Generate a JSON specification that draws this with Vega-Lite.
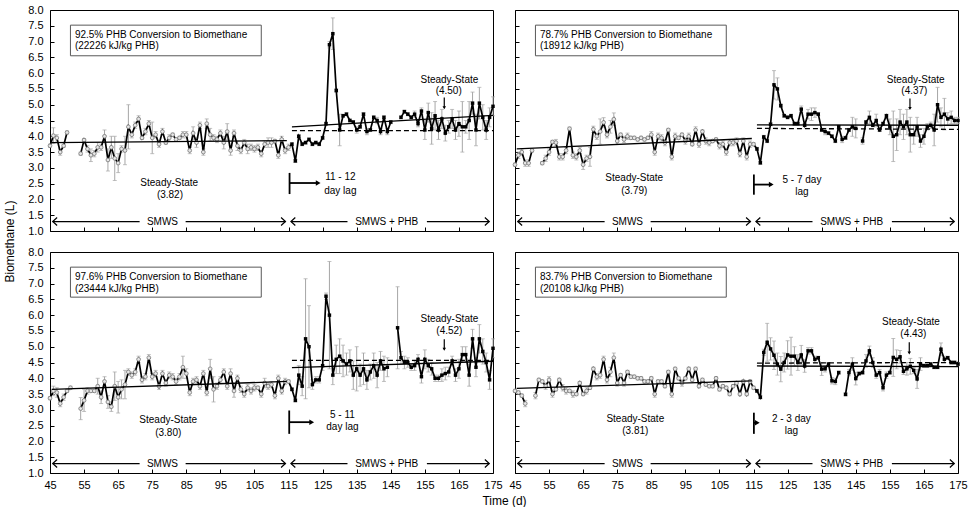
{
  "$schema": "https://vega.github.io/schema/vega-lite/v6.json",
  "autosize": {"type": "pad"},
  "padding": {"left": 2, "top": 3, "right": 4, "bottom": 1},
  "background": "white",
  "datasets": {
    "A": [
      {"d":45,"v":3.7,"e":0.05},{"d":46,"v":4.02,"e":0.25},{"d":47,"v":3.95,"e":0.1},{"d":48,"v":3.5,"e":0.1},{"d":49,"v":3.7,"e":0.05},{"d":50,"v":4.12,"e":0.05},
      {"d":51,"v":null,"e":null},{"d":52,"v":null,"e":null},{"d":53,"v":null,"e":null},
      {"d":54,"v":3.45,"e":0.05},{"d":55,"v":3.88,"e":0.05},{"d":56,"v":3.6,"e":0.1},{"d":57,"v":3.4,"e":0.2},{"d":58,"v":3.45,"e":0.1},{"d":59,"v":3.65,"e":0.15},{"d":60,"v":3.65,"e":0.1},
      {"d":61,"v":4.0,"e":0.2},{"d":62,"v":3.25,"e":0.35},{"d":63,"v":3.65,"e":0.35},{"d":64,"v":3.3,"e":0.7},{"d":65,"v":3.15,"e":0.3},{"d":66,"v":3.6,"e":0.1},{"d":67,"v":3.55,"e":0.45},{"d":68,"v":4.3,"e":0.7},{"d":69,"v":4.05,"e":0.1},{"d":70,"v":4.35,"e":0.1},
      {"d":71,"v":4.55,"e":0.1},{"d":72,"v":3.95,"e":0.05},{"d":73,"v":4.15,"e":0.1},{"d":74,"v":4.4,"e":0.1},{"d":75,"v":3.95,"e":0.5},{"d":76,"v":4.05,"e":0.1},{"d":77,"v":3.75,"e":0.1},{"d":78,"v":4.15,"e":0.1},{"d":79,"v":3.8,"e":0.05},{"d":80,"v":3.95,"e":0.1},
      {"d":81,"v":4.05,"e":0.05},{"d":82,"v":3.9,"e":0.05},{"d":83,"v":3.95,"e":0.05},{"d":84,"v":4.05,"e":0.1},{"d":85,"v":4.05,"e":0.1},{"d":86,"v":3.55,"e":0.1},{"d":87,"v":4.1,"e":0.2},{"d":88,"v":3.8,"e":0.15},{"d":89,"v":4.35,"e":0.1},{"d":90,"v":3.5,"e":0.1},
      {"d":91,"v":4.4,"e":0.15},{"d":92,"v":4.05,"e":0.2},{"d":93,"v":3.95,"e":0.1},{"d":94,"v":3.9,"e":0.1},{"d":95,"v":4.1,"e":0.1},{"d":96,"v":3.8,"e":0.2},{"d":97,"v":4.15,"e":0.25},{"d":98,"v":3.55,"e":0.15},{"d":99,"v":4.1,"e":0.1},{"d":100,"v":3.7,"e":0.15},
      {"d":101,"v":3.55,"e":0.1},{"d":102,"v":3.8,"e":0.1},{"d":103,"v":3.6,"e":0.15},{"d":104,"v":3.65,"e":0.1},{"d":105,"v":3.6,"e":0.1},{"d":106,"v":3.65,"e":0.1},{"d":107,"v":3.45,"e":0.1},{"d":108,"v":3.75,"e":0.1},{"d":109,"v":3.8,"e":0.15},{"d":110,"v":3.8,"e":0.15},
      {"d":111,"v":3.85,"e":0.05},{"d":112,"v":3.4,"e":0.1},{"d":113,"v":3.9,"e":0.1},{"d":114,"v":3.55,"e":0.1},{"d":115,"v":3.65,"e":0.1},
      {"d":116,"v":3.75,"e":0.05},{"d":117,"v":3.22,"e":0.05},{"d":118,"v":4.0,"e":0.05},{"d":119,"v":3.75,"e":0.05},{"d":120,"v":3.8,"e":0.05},
      {"d":121,"v":3.9,"e":0.05},{"d":122,"v":3.75,"e":0.05},{"d":123,"v":3.8,"e":0.05},{"d":124,"v":3.75,"e":0.05},{"d":125,"v":3.95,"e":0.05},{"d":126,"v":4.4,"e":0.05},{"d":127,"v":6.9,"e":0.1},{"d":128,"v":7.25,"e":0.5},{"d":129,"v":5.45,"e":0.05},{"d":130,"v":4.2,"e":0.5},
      {"d":131,"v":4.65,"e":0.05},{"d":132,"v":4.7,"e":0.05},{"d":133,"v":4.5,"e":0.05},{"d":134,"v":4.45,"e":0.05},{"d":135,"v":4.2,"e":0.1},{"d":136,"v":4.3,"e":0.05},{"d":137,"v":4.7,"e":0.05},{"d":138,"v":4.15,"e":0.1},{"d":139,"v":4.2,"e":0.05},{"d":140,"v":4.6,"e":0.05},
      {"d":141,"v":4.5,"e":0.1},{"d":142,"v":4.15,"e":0.1},{"d":143,"v":4.6,"e":0.05},{"d":144,"v":4.15,"e":0.1},{"d":145,"v":4.45,"e":0.05},{"d":146,"v":null,"e":null},{"d":147,"v":null,"e":null},
      {"d":148,"v":4.6,"e":0.05},{"d":149,"v":4.78,"e":0.05},{"d":150,"v":4.7,"e":0.05},
      {"d":151,"v":4.6,"e":0.05},{"d":152,"v":4.7,"e":0.1},{"d":153,"v":4.4,"e":0.1},{"d":154,"v":4.8,"e":0.1},{"d":155,"v":4.2,"e":0.3},{"d":156,"v":4.75,"e":0.3},{"d":157,"v":4.25,"e":0.5},{"d":158,"v":4.65,"e":0.45},{"d":159,"v":4.2,"e":0.3},{"d":160,"v":4.55,"e":0.3},
      {"d":161,"v":4.1,"e":0.25},{"d":162,"v":4.3,"e":0.2},{"d":163,"v":4.55,"e":0.3},{"d":164,"v":4.2,"e":0.3},{"d":165,"v":4.4,"e":0.4},{"d":166,"v":4.3,"e":0.8},{"d":167,"v":4.3,"e":0.2},{"d":168,"v":4.5,"e":0.6},{"d":169,"v":5.05,"e":0.35},{"d":170,"v":4.2,"e":0.5},
      {"d":171,"v":5.05,"e":0.5},{"d":172,"v":4.6,"e":0.4},{"d":173,"v":4.2,"e":0.3},{"d":174,"v":4.6,"e":0.3},{"d":175,"v":4.95,"e":0.3}
    ],
    "B": [
      {"d":45,"v":3.1,"e":0.05},{"d":46,"v":3.4,"e":0.1},{"d":47,"v":3.5,"e":0.1},{"d":48,"v":3.15,"e":0.1},{"d":49,"v":3.15,"e":0.1},{"d":50,"v":3.55,"e":0.05},
      {"d":51,"v":null,"e":null},{"d":52,"v":null,"e":null},
      {"d":53,"v":3.15,"e":0.05},{"d":54,"v":3.3,"e":0.1},{"d":55,"v":3.5,"e":0.1},{"d":56,"v":3.82,"e":0.05},{"d":57,"v":3.8,"e":0.1},{"d":58,"v":3.35,"e":0.1},{"d":59,"v":3.35,"e":0.1},{"d":60,"v":3.55,"e":0.1},
      {"d":61,"v":4.24,"e":0.05},{"d":62,"v":3.4,"e":0.1},{"d":63,"v":3.35,"e":0.1},{"d":64,"v":3.55,"e":0.1},{"d":65,"v":3.1,"e":0.15},{"d":66,"v":3.3,"e":0.1},{"d":67,"v":3.35,"e":0.3},{"d":68,"v":4.22,"e":0.1},{"d":69,"v":4.0,"e":0.1},{"d":70,"v":4.15,"e":0.4},
      {"d":71,"v":4.44,"e":0.15},{"d":72,"v":4.05,"e":0.1},{"d":73,"v":4.3,"e":0.2},{"d":74,"v":4.54,"e":0.2},{"d":75,"v":3.85,"e":0.1},{"d":76,"v":4.05,"e":0.05},{"d":77,"v":3.9,"e":0.1},{"d":78,"v":4.0,"e":0.1},{"d":79,"v":3.95,"e":0.05},{"d":80,"v":3.95,"e":0.05},
      {"d":81,"v":3.9,"e":0.05},{"d":82,"v":3.95,"e":0.05},{"d":83,"v":3.9,"e":0.05},{"d":84,"v":3.95,"e":0.05},{"d":85,"v":4.05,"e":0.1},{"d":86,"v":3.5,"e":0.1},{"d":87,"v":4.0,"e":0.1},{"d":88,"v":3.95,"e":0.1},{"d":89,"v":3.8,"e":0.1},{"d":90,"v":4.2,"e":0.05},
      {"d":91,"v":3.35,"e":0.1},{"d":92,"v":4.0,"e":0.1},{"d":93,"v":3.95,"e":0.05},{"d":94,"v":4.05,"e":0.05},{"d":95,"v":3.85,"e":0.1},{"d":96,"v":4.0,"e":0.1},{"d":97,"v":3.75,"e":0.05},{"d":98,"v":4.2,"e":0.1},{"d":99,"v":3.75,"e":0.1},{"d":100,"v":4.15,"e":0.05},
      {"d":101,"v":3.85,"e":0.1},{"d":102,"v":3.8,"e":0.1},{"d":103,"v":3.85,"e":0.05},{"d":104,"v":3.9,"e":0.05},{"d":105,"v":3.7,"e":0.1},{"d":106,"v":3.75,"e":0.1},{"d":107,"v":3.5,"e":0.1},{"d":108,"v":3.8,"e":0.1},{"d":109,"v":3.8,"e":0.1},{"d":110,"v":3.85,"e":0.1},
      {"d":111,"v":3.45,"e":0.1},{"d":112,"v":3.85,"e":0.1},{"d":113,"v":3.35,"e":0.1},{"d":114,"v":3.75,"e":0.1},{"d":115,"v":3.75,"e":0.05},
      {"d":116,"v":3.6,"e":0.05},{"d":117,"v":3.16,"e":0.05},{"d":118,"v":3.98,"e":0.05},{"d":119,"v":3.85,"e":0.05},{"d":120,"v":4.38,"e":0.05},
      {"d":121,"v":5.63,"e":0.45},{"d":122,"v":5.5,"e":0.35},{"d":123,"v":4.97,"e":0.05},{"d":124,"v":4.65,"e":0.05},{"d":125,"v":4.6,"e":0.05},{"d":126,"v":4.65,"e":0.05},{"d":127,"v":4.4,"e":0.05},{"d":128,"v":4.4,"e":0.05},{"d":129,"v":4.86,"e":0.1},{"d":130,"v":4.35,"e":0.05},
      {"d":131,"v":4.7,"e":0.15},{"d":132,"v":4.7,"e":0.2},{"d":133,"v":4.75,"e":0.15},{"d":134,"v":4.7,"e":0.05},{"d":135,"v":4.2,"e":0.05},{"d":136,"v":4.15,"e":0.1},{"d":137,"v":4.1,"e":0.05},{"d":138,"v":4.0,"e":0.05},{"d":139,"v":3.85,"e":0.05},{"d":140,"v":4.3,"e":0.05},
      {"d":141,"v":3.9,"e":0.1},{"d":142,"v":3.95,"e":0.05},{"d":143,"v":4.2,"e":0.05},{"d":144,"v":4.3,"e":0.3},{"d":145,"v":4.25,"e":0.3},{"d":146,"v":null,"e":null},{"d":147,"v":3.85,"e":0.1},{"d":148,"v":4.45,"e":0.05},{"d":149,"v":4.6,"e":0.2},{"d":150,"v":4.35,"e":0.05},
      {"d":151,"v":4.5,"e":0.2},{"d":152,"v":4.2,"e":0.05},{"d":153,"v":4.4,"e":0.05},{"d":154,"v":4.65,"e":0.05},{"d":155,"v":4.3,"e":0.25},{"d":156,"v":4.0,"e":0.8},{"d":157,"v":4.05,"e":0.5},{"d":158,"v":4.45,"e":0.4},{"d":159,"v":4.3,"e":0.4},{"d":160,"v":4.45,"e":0.4},
      {"d":161,"v":4.05,"e":0.55},{"d":162,"v":4.05,"e":0.3},{"d":163,"v":4.3,"e":0.3},{"d":164,"v":3.85,"e":0.2},{"d":165,"v":4.0,"e":0.25},{"d":166,"v":4.3,"e":0.1},{"d":167,"v":4.35,"e":0.1},{"d":168,"v":4.2,"e":0.5},{"d":169,"v":5.0,"e":0.55},{"d":170,"v":4.6,"e":0.3},
      {"d":171,"v":4.7,"e":0.5},{"d":172,"v":4.55,"e":0.2},{"d":173,"v":4.6,"e":0.2},{"d":174,"v":4.5,"e":0.1},{"d":175,"v":4.5,"e":0.1}
    ],
    "C": [
      {"d":45,"v":3.37,"e":0.05},{"d":46,"v":3.6,"e":0.15},{"d":47,"v":3.55,"e":0.15},{"d":48,"v":3.2,"e":0.1},{"d":49,"v":3.4,"e":0.1},{"d":50,"v":3.6,"e":0.05},
      {"d":51,"v":3.7,"e":0.05},{"d":52,"v":null,"e":null},{"d":53,"v":null,"e":null},
      {"d":54,"v":3.04,"e":0.35},{"d":55,"v":3.3,"e":0.35},{"d":56,"v":3.6,"e":0.1},{"d":57,"v":3.6,"e":0.05},{"d":58,"v":3.6,"e":0.05},{"d":59,"v":3.75,"e":0.25},{"d":60,"v":3.4,"e":0.2},
      {"d":61,"v":3.9,"e":0.15},{"d":62,"v":3.25,"e":0.2},{"d":63,"v":3.1,"e":0.15},{"d":64,"v":3.75,"e":0.45},{"d":65,"v":3.4,"e":0.5},{"d":66,"v":3.65,"e":0.3},{"d":67,"v":3.8,"e":0.45},{"d":68,"v":4.2,"e":0.1},{"d":69,"v":4.1,"e":0.1},{"d":70,"v":4.2,"e":0.1},
      {"d":71,"v":4.6,"e":0.1},{"d":72,"v":3.95,"e":0.1},{"d":73,"v":4.05,"e":0.1},{"d":74,"v":4.65,"e":0.1},{"d":75,"v":4.05,"e":0.1},{"d":76,"v":4.15,"e":0.1},{"d":77,"v":3.75,"e":0.1},{"d":78,"v":4.15,"e":0.1},{"d":79,"v":3.85,"e":0.1},{"d":80,"v":4.1,"e":0.1},
      {"d":81,"v":4.05,"e":0.1},{"d":82,"v":3.9,"e":0.1},{"d":83,"v":4.05,"e":0.1},{"d":84,"v":4.35,"e":0.35},{"d":85,"v":4.15,"e":0.15},{"d":86,"v":3.55,"e":0.1},{"d":87,"v":3.9,"e":0.1},{"d":88,"v":3.95,"e":0.1},{"d":89,"v":3.75,"e":0.1},{"d":90,"v":4.15,"e":0.1},
      {"d":91,"v":3.55,"e":0.1},{"d":92,"v":4.3,"e":0.3},{"d":93,"v":3.65,"e":0.4},{"d":94,"v":3.75,"e":0.1},{"d":95,"v":3.95,"e":0.1},{"d":96,"v":4.2,"e":0.1},{"d":97,"v":3.75,"e":0.1},{"d":98,"v":4.15,"e":0.15},{"d":99,"v":3.6,"e":0.2},{"d":100,"v":4.0,"e":0.1},
      {"d":101,"v":3.65,"e":0.1},{"d":102,"v":3.5,"e":0.1},{"d":103,"v":3.7,"e":0.1},{"d":104,"v":3.6,"e":0.1},{"d":105,"v":3.7,"e":0.1},{"d":106,"v":3.7,"e":0.05},{"d":107,"v":3.5,"e":0.1},{"d":108,"v":3.85,"e":0.15},{"d":109,"v":3.75,"e":0.1},{"d":110,"v":3.8,"e":0.1},
      {"d":111,"v":3.45,"e":0.1},{"d":112,"v":4.0,"e":0.1},{"d":113,"v":3.6,"e":0.1},{"d":114,"v":3.9,"e":0.1},{"d":115,"v":3.9,"e":0.05},
      {"d":116,"v":3.65,"e":0.05},{"d":117,"v":3.3,"e":0.05},{"d":118,"v":4.1,"e":0.3},{"d":119,"v":3.75,"e":0.3},{"d":120,"v":5.25,"e":1.9},
      {"d":121,"v":5.0,"e":1.3},{"d":122,"v":3.8,"e":0.15},{"d":123,"v":3.95,"e":0.1},{"d":124,"v":3.95,"e":0.1},{"d":125,"v":4.4,"e":0.15},{"d":126,"v":6.6,"e":0.1},{"d":127,"v":6.0,"e":1.7},{"d":128,"v":4.1,"e":0.3},{"d":129,"v":4.6,"e":0.45},{"d":130,"v":4.7,"e":0.55},
      {"d":131,"v":4.55,"e":0.5},{"d":132,"v":4.45,"e":0.35},{"d":133,"v":4.55,"e":0.35},{"d":134,"v":4.1,"e":0.45},{"d":135,"v":4.3,"e":0.7},{"d":136,"v":4.1,"e":0.35},{"d":137,"v":4.3,"e":0.5},{"d":138,"v":3.95,"e":0.3},{"d":139,"v":4.2,"e":0.25},{"d":140,"v":4.4,"e":0.4},
      {"d":141,"v":4.1,"e":0.4},{"d":142,"v":4.55,"e":0.3},{"d":143,"v":4.3,"e":0.4},{"d":144,"v":4.35,"e":0.3},{"d":145,"v":null,"e":null},{"d":146,"v":null,"e":null},{"d":147,"v":5.6,"e":1.3},{"d":148,"v":4.65,"e":0.2},{"d":149,"v":4.5,"e":0.2},{"d":150,"v":4.5,"e":0.15},
      {"d":151,"v":4.35,"e":0.1},{"d":152,"v":4.4,"e":0.15},{"d":153,"v":4.6,"e":0.15},{"d":154,"v":4.05,"e":0.2},{"d":155,"v":4.6,"e":0.3},{"d":156,"v":4.4,"e":0.2},{"d":157,"v":4.3,"e":0.2},{"d":158,"v":4.0,"e":0.1},{"d":159,"v":4.0,"e":0.1},{"d":160,"v":4.1,"e":0.2},
      {"d":161,"v":4.15,"e":0.2},{"d":162,"v":4.2,"e":0.15},{"d":163,"v":4.55,"e":0.15},{"d":164,"v":4.1,"e":0.2},{"d":165,"v":4.3,"e":0.3},{"d":166,"v":4.75,"e":0.25},{"d":167,"v":4.75,"e":0.25},{"d":168,"v":4.1,"e":0.35},{"d":169,"v":5.25,"e":0.3},{"d":170,"v":4.35,"e":0.3},
      {"d":171,"v":5.25,"e":0.45},{"d":172,"v":4.85,"e":0.4},{"d":173,"v":4.5,"e":0.3},{"d":174,"v":3.95,"e":0.3},{"d":175,"v":4.95,"e":0.3}
    ],
    "D": [
      {"d":45,"v":3.6,"e":0.05},{"d":46,"v":3.55,"e":0.05},{"d":47,"v":3.45,"e":0.05},{"d":48,"v":3.2,"e":0.1},{"d":49,"v":null,"e":null},{"d":50,"v":null,"e":null},
      {"d":51,"v":3.45,"e":0.1},{"d":52,"v":3.95,"e":0.05},{"d":53,"v":3.9,"e":0.05},{"d":54,"v":3.75,"e":0.1},{"d":55,"v":3.95,"e":0.1},{"d":56,"v":3.5,"e":0.1},{"d":57,"v":3.65,"e":0.05},{"d":58,"v":3.95,"e":0.05},{"d":59,"v":3.7,"e":0.1},{"d":60,"v":3.6,"e":0.1},
      {"d":61,"v":3.6,"e":0.05},{"d":62,"v":3.5,"e":0.1},{"d":63,"v":3.5,"e":0.05},{"d":64,"v":3.85,"e":0.05},{"d":65,"v":3.5,"e":0.05},{"d":66,"v":3.6,"e":0.1},{"d":67,"v":3.7,"e":0.05},{"d":68,"v":4.3,"e":0.05},{"d":69,"v":4.05,"e":0.1},{"d":70,"v":4.1,"e":0.1},
      {"d":71,"v":4.6,"e":0.1},{"d":72,"v":3.95,"e":0.1},{"d":73,"v":4.2,"e":0.15},{"d":74,"v":4.65,"e":0.15},{"d":75,"v":3.85,"e":0.1},{"d":76,"v":4.1,"e":0.05},{"d":77,"v":3.85,"e":0.1},{"d":78,"v":4.2,"e":0.05},{"d":79,"v":4.05,"e":0.05},{"d":80,"v":4.05,"e":0.05},
      {"d":81,"v":4.0,"e":0.05},{"d":82,"v":4.0,"e":0.05},{"d":83,"v":3.9,"e":0.05},{"d":84,"v":3.9,"e":0.05},{"d":85,"v":4.0,"e":0.05},{"d":86,"v":3.5,"e":0.1},{"d":87,"v":3.9,"e":0.05},{"d":88,"v":3.9,"e":0.05},{"d":89,"v":3.75,"e":0.05},{"d":90,"v":4.2,"e":0.05},
      {"d":91,"v":3.5,"e":0.1},{"d":92,"v":4.3,"e":0.05},{"d":93,"v":4.0,"e":0.05},{"d":94,"v":3.85,"e":0.1},{"d":95,"v":4.0,"e":0.05},{"d":96,"v":4.3,"e":0.05},{"d":97,"v":3.95,"e":0.05},{"d":98,"v":4.3,"e":0.05},{"d":99,"v":3.75,"e":0.05},{"d":100,"v":3.95,"e":0.05},
      {"d":101,"v":3.8,"e":0.05},{"d":102,"v":3.75,"e":0.05},{"d":103,"v":3.75,"e":0.05},{"d":104,"v":4.0,"e":0.05},{"d":105,"v":3.65,"e":0.05},{"d":106,"v":3.75,"e":0.05},{"d":107,"v":3.7,"e":0.05},{"d":108,"v":3.5,"e":0.05},{"d":109,"v":3.75,"e":0.05},{"d":110,"v":3.85,"e":0.05},
      {"d":111,"v":3.5,"e":0.05},{"d":112,"v":3.9,"e":0.05},{"d":113,"v":3.5,"e":0.05},{"d":114,"v":3.9,"e":0.05},{"d":115,"v":3.7,"e":0.05},
      {"d":116,"v":3.6,"e":0.05},{"d":117,"v":3.4,"e":0.05},{"d":118,"v":4.82,"e":0.1},{"d":119,"v":5.14,"e":0.6},{"d":120,"v":4.93,"e":0.35},
      {"d":121,"v":4.73,"e":0.45},{"d":122,"v":4.45,"e":0.35},{"d":123,"v":4.29,"e":0.4},{"d":124,"v":4.5,"e":0.3},{"d":125,"v":4.74,"e":0.45},{"d":126,"v":4.7,"e":0.6},{"d":127,"v":4.7,"e":0.3},{"d":128,"v":4.5,"e":0.25},{"d":129,"v":4.74,"e":0.3},{"d":130,"v":4.39,"e":0.2},
      {"d":131,"v":4.87,"e":0.1},{"d":132,"v":4.87,"e":0.1},{"d":133,"v":4.6,"e":0.1},{"d":134,"v":4.65,"e":0.05},{"d":135,"v":4.29,"e":0.2},{"d":136,"v":4.3,"e":0.1},{"d":137,"v":4.45,"e":0.05},{"d":138,"v":3.92,"e":0.1},{"d":139,"v":3.9,"e":0.1},{"d":140,"v":4.18,"e":0.05},
      {"d":141,"v":null,"e":null},{"d":142,"v":3.49,"e":0.05},{"d":143,"v":4.18,"e":0.1},{"d":144,"v":4.45,"e":0.2},{"d":145,"v":3.99,"e":0.2},{"d":146,"v":4.15,"e":0.05},{"d":147,"v":4.18,"e":0.05},{"d":148,"v":4.55,"e":0.2},{"d":149,"v":4.87,"e":0.15},{"d":150,"v":4.5,"e":0.15},
      {"d":151,"v":4.1,"e":0.1},{"d":152,"v":4.18,"e":0.1},{"d":153,"v":3.7,"e":0.1},{"d":154,"v":4.1,"e":0.1},{"d":155,"v":4.18,"e":0.05},{"d":156,"v":4.66,"e":0.6},{"d":157,"v":4.6,"e":0.3},{"d":158,"v":4.68,"e":0.2},{"d":159,"v":4.22,"e":0.1},{"d":160,"v":4.3,"e":0.2},
      {"d":161,"v":4.38,"e":0.25},{"d":162,"v":4.25,"e":0.1},{"d":163,"v":3.98,"e":0.3},{"d":164,"v":4.45,"e":0.2},{"d":165,"v":4.4,"e":0.05},{"d":166,"v":4.4,"e":0.05},{"d":167,"v":4.45,"e":0.05},{"d":168,"v":4.35,"e":0.05},{"d":169,"v":4.35,"e":0.05},{"d":170,"v":4.92,"e":0.2},
      {"d":171,"v":4.6,"e":0.1},{"d":172,"v":4.65,"e":0.05},{"d":173,"v":4.5,"e":0.05},{"d":174,"v":4.5,"e":0.05},{"d":175,"v":4.45,"e":0.05}
    ],
    "notes": [
      {"p":"A","k":"fit","d":45.5,"v":3.8,"d2":114.5,"v2":3.86},
      {"p":"A","k":"fit","d":116,"v":4.3,"d2":175,"v2":4.66},
      {"p":"A","k":"fitd","d":116,"v":4.18,"d2":175,"v2":4.18},
      {"p":"A","k":"box","d":51,"v":7.52,"d2":107,"v2":6.55},
      {"p":"A","k":"btxt","d":52.3,"v":7.2,"t":"92.5% PHB Conversion to Biomethane"},
      {"p":"A","k":"btxt","d":52.3,"v":6.85,"t":"(22226 kJ/kg PHB)"},
      {"p":"A","k":"lbl","d":80,"v":2.52,"t":"Steady-State"},
      {"p":"A","k":"lbl","d":80.2,"v":2.15,"t":"(3.82)"},
      {"p":"A","k":"lbl","d":162.2,"v":5.77,"t":"Steady-State"},
      {"p":"A","k":"lbl","d":162,"v":5.43,"t":"(4.50)"},
      {"p":"A","k":"lbl","d":130.2,"v":2.7,"t":"11 - 12"},
      {"p":"A","k":"lbl","d":130.2,"v":2.28,"t":"day lag"},
      {"p":"A","k":"lbl","d":78,"v":1.3,"t":"SMWS"},
      {"p":"A","k":"lbl","d":143.8,"v":1.3,"t":"SMWS + PHB"},
      {"p":"A","k":"seg","d":45.8,"v":1.3,"d2":71.3,"v2":1.3},
      {"p":"A","k":"seg","d":84.8,"v":1.3,"d2":114.1,"v2":1.3},
      {"p":"A","k":"seg","d":115.7,"v":1.3,"d2":132.3,"v2":1.3},
      {"p":"A","k":"seg","d":155.6,"v":1.3,"d2":173.9,"v2":1.3},
      {"p":"A","k":"seg","d":160.7,"v":5.23,"d2":160.7,"v2":4.9},
      {"p":"A","k":"bar","d":115.3,"v":2.17,"d2":115.3,"v2":2.84},
      {"p":"A","k":"bar","d":115.3,"v":2.52,"d2":123.7,"v2":2.52},
      {"p":"A","k":"chl","d":45.8,"v":1.3},{"p":"A","k":"chr","d":114.1,"v":1.3},
      {"p":"A","k":"chl","d":115.7,"v":1.3},{"p":"A","k":"chr","d":173.9,"v":1.3},
      {"p":"A","k":"tri","d":123.7,"v":2.52},
      {"p":"A","k":"tdn","d":160.7,"v":4.9},

      {"p":"B","k":"fit","d":45.5,"v":3.6,"d2":114.5,"v2":3.93},
      {"p":"B","k":"fit","d":116,"v":4.36,"d2":175,"v2":4.35},
      {"p":"B","k":"fitd","d":116,"v":4.25,"d2":175,"v2":4.22},
      {"p":"B","k":"box","d":51,"v":7.52,"d2":107,"v2":6.55},
      {"p":"B","k":"btxt","d":52.3,"v":7.2,"t":"78.7% PHB Conversion to Biomethane"},
      {"p":"B","k":"btxt","d":52.3,"v":6.85,"t":"(18912 kJ/kg PHB)"},
      {"p":"B","k":"lbl","d":80,"v":2.68,"t":"Steady-State"},
      {"p":"B","k":"lbl","d":80,"v":2.26,"t":"(3.79)"},
      {"p":"B","k":"lbl","d":162.6,"v":5.79,"t":"Steady-State"},
      {"p":"B","k":"lbl","d":162.2,"v":5.43,"t":"(4.37)"},
      {"p":"B","k":"lbl","d":129.2,"v":2.63,"t":"5 - 7 day"},
      {"p":"B","k":"lbl","d":129.2,"v":2.23,"t":"lag"},
      {"p":"B","k":"lbl","d":78,"v":1.3,"t":"SMWS"},
      {"p":"B","k":"lbl","d":143.8,"v":1.3,"t":"SMWS + PHB"},
      {"p":"B","k":"seg","d":45.8,"v":1.3,"d2":71.3,"v2":1.3},
      {"p":"B","k":"seg","d":84.8,"v":1.3,"d2":114.1,"v2":1.3},
      {"p":"B","k":"seg","d":115.7,"v":1.3,"d2":132.3,"v2":1.3},
      {"p":"B","k":"seg","d":155.6,"v":1.3,"d2":173.9,"v2":1.3},
      {"p":"B","k":"seg","d":160.9,"v":5.2,"d2":160.9,"v2":4.88},
      {"p":"B","k":"bar","d":115.1,"v":2.15,"d2":115.1,"v2":2.79},
      {"p":"B","k":"bar","d":115.1,"v":2.47,"d2":120.2,"v2":2.47},
      {"p":"B","k":"chl","d":45.8,"v":1.3},{"p":"B","k":"chr","d":114.1,"v":1.3},
      {"p":"B","k":"chl","d":115.7,"v":1.3},{"p":"B","k":"chr","d":173.9,"v":1.3},
      {"p":"B","k":"tri","d":120.2,"v":2.47},
      {"p":"B","k":"tdn","d":160.9,"v":4.88},

      {"p":"C","k":"fit","d":45.5,"v":3.65,"d2":114.5,"v2":3.9},
      {"p":"C","k":"fit","d":116,"v":4.34,"d2":175,"v2":4.54},
      {"p":"C","k":"fitd","d":116,"v":4.57,"d2":175,"v2":4.57},
      {"p":"C","k":"box","d":51,"v":7.52,"d2":107,"v2":6.57},
      {"p":"C","k":"btxt","d":52.3,"v":7.2,"t":"97.6% PHB Conversion to Biomethane"},
      {"p":"C","k":"btxt","d":52.3,"v":6.83,"t":"(23444 kJ/kg PHB)"},
      {"p":"C","k":"lbl","d":79.7,"v":2.67,"t":"Steady-State"},
      {"p":"C","k":"lbl","d":79.7,"v":2.27,"t":"(3.80)"},
      {"p":"C","k":"lbl","d":162.2,"v":5.88,"t":"Steady-State"},
      {"p":"C","k":"lbl","d":162.2,"v":5.51,"t":"(4.52)"},
      {"p":"C","k":"lbl","d":130.8,"v":2.83,"t":"5 - 11"},
      {"p":"C","k":"lbl","d":130.8,"v":2.45,"t":"day lag"},
      {"p":"C","k":"lbl","d":78,"v":1.3,"t":"SMWS"},
      {"p":"C","k":"lbl","d":143.8,"v":1.3,"t":"SMWS + PHB"},
      {"p":"C","k":"seg","d":45.8,"v":1.3,"d2":71.3,"v2":1.3},
      {"p":"C","k":"seg","d":84.8,"v":1.3,"d2":114.1,"v2":1.3},
      {"p":"C","k":"seg","d":115.7,"v":1.3,"d2":132.3,"v2":1.3},
      {"p":"C","k":"seg","d":155.6,"v":1.3,"d2":173.9,"v2":1.3},
      {"p":"C","k":"seg","d":160.7,"v":5.24,"d2":160.7,"v2":4.92},
      {"p":"C","k":"bar","d":115.2,"v":2.24,"d2":115.2,"v2":2.98},
      {"p":"C","k":"bar","d":115.2,"v":2.61,"d2":121.8,"v2":2.61},
      {"p":"C","k":"chl","d":45.8,"v":1.3},{"p":"C","k":"chr","d":114.1,"v":1.3},
      {"p":"C","k":"chl","d":115.7,"v":1.3},{"p":"C","k":"chr","d":173.9,"v":1.3},
      {"p":"C","k":"tri","d":121.8,"v":2.61},
      {"p":"C","k":"tdn","d":160.7,"v":4.92},

      {"p":"D","k":"fit","d":45.5,"v":3.68,"d2":114.5,"v2":3.92},
      {"p":"D","k":"fit","d":116,"v":4.39,"d2":175,"v2":4.37},
      {"p":"D","k":"fitd","d":116,"v":4.48,"d2":175,"v2":4.5},
      {"p":"D","k":"box","d":51,"v":7.52,"d2":107,"v2":6.57},
      {"p":"D","k":"btxt","d":52.3,"v":7.2,"t":"83.7% PHB Conversion to Biomethane"},
      {"p":"D","k":"btxt","d":52.3,"v":6.83,"t":"(20108 kJ/kg PHB)"},
      {"p":"D","k":"lbl","d":80.3,"v":2.72,"t":"Steady-State"},
      {"p":"D","k":"lbl","d":80.3,"v":2.33,"t":"(3.81)"},
      {"p":"D","k":"lbl","d":161.2,"v":5.77,"t":"Steady-State"},
      {"p":"D","k":"lbl","d":161.9,"v":5.4,"t":"(4.43)"},
      {"p":"D","k":"lbl","d":126.1,"v":2.72,"t":"2 - 3 day"},
      {"p":"D","k":"lbl","d":126.1,"v":2.33,"t":"lag"},
      {"p":"D","k":"lbl","d":78,"v":1.3,"t":"SMWS"},
      {"p":"D","k":"lbl","d":143.8,"v":1.3,"t":"SMWS + PHB"},
      {"p":"D","k":"seg","d":45.8,"v":1.3,"d2":71.3,"v2":1.3},
      {"p":"D","k":"seg","d":84.8,"v":1.3,"d2":114.1,"v2":1.3},
      {"p":"D","k":"seg","d":115.7,"v":1.3,"d2":132.3,"v2":1.3},
      {"p":"D","k":"seg","d":155.6,"v":1.3,"d2":173.9,"v2":1.3},
      {"p":"D","k":"seg","d":160.7,"v":5.14,"d2":160.7,"v2":4.8},
      {"p":"D","k":"bar","d":115.1,"v":2.24,"d2":115.1,"v2":2.91},
      {"p":"D","k":"bar","d":115.1,"v":2.59,"d2":116.1,"v2":2.59},
      {"p":"D","k":"chl","d":45.8,"v":1.3},{"p":"D","k":"chr","d":114.1,"v":1.3},
      {"p":"D","k":"chl","d":115.7,"v":1.3},{"p":"D","k":"chr","d":173.9,"v":1.3},
      {"p":"D","k":"tri","d":116.1,"v":2.59},
      {"p":"D","k":"tdn","d":160.7,"v":4.8}
    ]
  },
  "config": {
    "font": "Liberation Sans",
    "view": {"stroke": "black", "strokeWidth": 1},
    "axis": {"grid": false, "domain": false, "tickColor": "black", "tickSize": -4, "labelPadding": 10, "labelFontSize": 11, "labelColor": "black", "labelFlush": false, "titleFontSize": 12, "titleFontWeight": "normal", "titleColor": "black"},
    "axisY": {"labelPadding": 11},
    "text": {"fontSize": 10, "color": "black"}
  },
  "columns": 2,
  "bounds": "flush",
  "spacing": {"row": 21, "column": 22},
  "concat": [
    {
      "width": 443, "height": 221,
      "encoding": {
        "x": {"field": "d", "type": "quantitative", "scale": {"domain": [45, 175], "nice": false, "zero": false}, "axis": {"values": [45,55,65,75,85,95,105,115,125,135,145,155,165,175], "labels": false, "title": null}},
        "y": {"field": "v", "type": "quantitative", "scale": {"domain": [1, 8], "nice": false, "zero": false}, "axis": {"values": [1,1.5,2,2.5,3,3.5,4,4.5,5,5.5,6,6.5,7,7.5,8], "format": ".1f", "title": "Biomethane (L)", "titleX": -41, "titleY": 231, "titleAngle": 270, "titleAlign": "center", "titleBaseline": "middle"}}
      },
      "layer": [
        {"data": {"name": "A"}, "transform": [{"filter": "datum.v != null"}], "mark": {"type": "errorbar", "color": "#a6a6a6", "thickness": 1, "ticks": {"size": 4}}, "encoding": {"yError": {"field": "e"}}},
        {"data": {"name": "A"}, "mark": {"type": "line", "color": "black", "strokeWidth": 1.7, "invalid": "break-paths-filter-domains"}},
        {"data": {"name": "A"}, "transform": [{"filter": "datum.v != null && datum.d <= 115"}], "mark": {"type": "point", "shape": "circle", "size": 14, "filled": true, "color": "#e6e6e6", "stroke": "#808080", "strokeWidth": 0.9, "opacity": 1}},
        {"data": {"name": "A"}, "transform": [{"filter": "datum.v != null && datum.d > 115"}], "mark": {"type": "square", "size": 12, "color": "black", "opacity": 1}},
        {"data": {"name": "notes"}, "transform": [{"filter": "datum.p == 'A' && datum.k == 'fit'"}], "mark": {"type": "rule", "color": "black", "strokeWidth": 1.3}, "encoding": {"x2": {"field": "d2"}, "y2": {"field": "v2"}}},
        {"data": {"name": "notes"}, "transform": [{"filter": "datum.p == 'A' && datum.k == 'fitd'"}], "mark": {"type": "rule", "color": "black", "strokeWidth": 1.3, "strokeDash": [5, 3]}, "encoding": {"x2": {"field": "d2"}, "y2": {"field": "v2"}}},
        {"data": {"name": "notes"}, "transform": [{"filter": "datum.p == 'A' && datum.k == 'box'"}], "mark": {"type": "rect", "fill": "white", "stroke": "#595959", "strokeWidth": 1}, "encoding": {"x2": {"field": "d2"}, "y2": {"field": "v2"}}},
        {"data": {"name": "notes"}, "transform": [{"filter": "datum.p == 'A' && datum.k == 'btxt'"}], "mark": {"type": "text", "align": "left", "baseline": "middle", "fontSize": 10}, "encoding": {"text": {"field": "t"}}},
        {"data": {"name": "notes"}, "transform": [{"filter": "datum.p == 'A' && datum.k == 'lbl'"}], "mark": {"type": "text", "align": "center", "baseline": "middle", "fontSize": 10}, "encoding": {"text": {"field": "t"}}},
        {"data": {"name": "notes"}, "transform": [{"filter": "datum.p == 'A' && datum.k == 'seg'"}], "mark": {"type": "rule", "color": "black", "strokeWidth": 1.2}, "encoding": {"x2": {"field": "d2"}, "y2": {"field": "v2"}}},
        {"data": {"name": "notes"}, "transform": [{"filter": "datum.p == 'A' && datum.k == 'bar'"}], "mark": {"type": "rule", "color": "black", "strokeWidth": 1.8}, "encoding": {"x2": {"field": "d2"}, "y2": {"field": "v2"}}},
        {"data": {"name": "notes"}, "transform": [{"filter": "datum.p == 'A' && datum.k == 'chl'"}], "mark": {"type": "point", "shape": "M1.1,-1L0,0L1.1,1", "size": 64, "filled": false, "stroke": "black", "strokeWidth": 1.2, "opacity": 1}},
        {"data": {"name": "notes"}, "transform": [{"filter": "datum.p == 'A' && datum.k == 'chr'"}], "mark": {"type": "point", "shape": "M-1.1,-1L0,0L-1.1,1", "size": 64, "filled": false, "stroke": "black", "strokeWidth": 1.2, "opacity": 1}},
        {"data": {"name": "notes"}, "transform": [{"filter": "datum.p == 'A' && datum.k == 'tri'"}], "mark": {"type": "point", "shape": "triangle-right", "size": 30, "filled": true, "color": "black", "opacity": 1}},
        {"data": {"name": "notes"}, "transform": [{"filter": "datum.p == 'A' && datum.k == 'tdn'"}], "mark": {"type": "point", "shape": "triangle-down", "size": 12, "filled": true, "color": "black", "opacity": 1}}
      ]
    },
    {
      "width": 443, "height": 221,
      "encoding": {
        "x": {"field": "d", "type": "quantitative", "scale": {"domain": [45, 175], "nice": false, "zero": false}, "axis": {"values": [45,55,65,75,85,95,105,115,125,135,145,155,165,175], "labels": false, "title": null}},
        "y": {"field": "v", "type": "quantitative", "scale": {"domain": [1, 8], "nice": false, "zero": false}, "axis": {"values": [1,1.5,2,2.5,3,3.5,4,4.5,5,5.5,6,6.5,7,7.5,8], "labels": false, "title": null}}
      },
      "layer": [
        {"data": {"name": "B"}, "transform": [{"filter": "datum.v != null"}], "mark": {"type": "errorbar", "color": "#a6a6a6", "thickness": 1, "ticks": {"size": 4}}, "encoding": {"yError": {"field": "e"}}},
        {"data": {"name": "B"}, "mark": {"type": "line", "color": "black", "strokeWidth": 1.7, "invalid": "break-paths-filter-domains"}},
        {"data": {"name": "B"}, "transform": [{"filter": "datum.v != null && datum.d <= 115"}], "mark": {"type": "point", "shape": "circle", "size": 14, "filled": true, "color": "#e6e6e6", "stroke": "#808080", "strokeWidth": 0.9, "opacity": 1}},
        {"data": {"name": "B"}, "transform": [{"filter": "datum.v != null && datum.d > 115"}], "mark": {"type": "square", "size": 12, "color": "black", "opacity": 1}},
        {"data": {"name": "notes"}, "transform": [{"filter": "datum.p == 'B' && datum.k == 'fit'"}], "mark": {"type": "rule", "color": "black", "strokeWidth": 1.3}, "encoding": {"x2": {"field": "d2"}, "y2": {"field": "v2"}}},
        {"data": {"name": "notes"}, "transform": [{"filter": "datum.p == 'B' && datum.k == 'fitd'"}], "mark": {"type": "rule", "color": "black", "strokeWidth": 1.3, "strokeDash": [5, 3]}, "encoding": {"x2": {"field": "d2"}, "y2": {"field": "v2"}}},
        {"data": {"name": "notes"}, "transform": [{"filter": "datum.p == 'B' && datum.k == 'box'"}], "mark": {"type": "rect", "fill": "white", "stroke": "#595959", "strokeWidth": 1}, "encoding": {"x2": {"field": "d2"}, "y2": {"field": "v2"}}},
        {"data": {"name": "notes"}, "transform": [{"filter": "datum.p == 'B' && datum.k == 'btxt'"}], "mark": {"type": "text", "align": "left", "baseline": "middle", "fontSize": 10}, "encoding": {"text": {"field": "t"}}},
        {"data": {"name": "notes"}, "transform": [{"filter": "datum.p == 'B' && datum.k == 'lbl'"}], "mark": {"type": "text", "align": "center", "baseline": "middle", "fontSize": 10}, "encoding": {"text": {"field": "t"}}},
        {"data": {"name": "notes"}, "transform": [{"filter": "datum.p == 'B' && datum.k == 'seg'"}], "mark": {"type": "rule", "color": "black", "strokeWidth": 1.2}, "encoding": {"x2": {"field": "d2"}, "y2": {"field": "v2"}}},
        {"data": {"name": "notes"}, "transform": [{"filter": "datum.p == 'B' && datum.k == 'bar'"}], "mark": {"type": "rule", "color": "black", "strokeWidth": 1.8}, "encoding": {"x2": {"field": "d2"}, "y2": {"field": "v2"}}},
        {"data": {"name": "notes"}, "transform": [{"filter": "datum.p == 'B' && datum.k == 'chl'"}], "mark": {"type": "point", "shape": "M1.1,-1L0,0L1.1,1", "size": 64, "filled": false, "stroke": "black", "strokeWidth": 1.2, "opacity": 1}},
        {"data": {"name": "notes"}, "transform": [{"filter": "datum.p == 'B' && datum.k == 'chr'"}], "mark": {"type": "point", "shape": "M-1.1,-1L0,0L-1.1,1", "size": 64, "filled": false, "stroke": "black", "strokeWidth": 1.2, "opacity": 1}},
        {"data": {"name": "notes"}, "transform": [{"filter": "datum.p == 'B' && datum.k == 'tri'"}], "mark": {"type": "point", "shape": "triangle-right", "size": 30, "filled": true, "color": "black", "opacity": 1}},
        {"data": {"name": "notes"}, "transform": [{"filter": "datum.p == 'B' && datum.k == 'tdn'"}], "mark": {"type": "point", "shape": "triangle-down", "size": 12, "filled": true, "color": "black", "opacity": 1}}
      ]
    },
    {
      "width": 443, "height": 221,
      "encoding": {
        "x": {"field": "d", "type": "quantitative", "scale": {"domain": [45, 175], "nice": false, "zero": false}, "axis": {"values": [45,55,65,75,85,95,105,115,125,135,145,155,165,175], "title": "Time (d)", "titleX": 454, "titleY": 22, "titleAlign": "center", "titleBaseline": "top"}},
        "y": {"field": "v", "type": "quantitative", "scale": {"domain": [1, 8], "nice": false, "zero": false}, "axis": {"values": [1,1.5,2,2.5,3,3.5,4,4.5,5,5.5,6,6.5,7,7.5,8], "format": ".1f", "title": null}}
      },
      "layer": [
        {"data": {"name": "C"}, "transform": [{"filter": "datum.v != null"}], "mark": {"type": "errorbar", "color": "#a6a6a6", "thickness": 1, "ticks": {"size": 4}}, "encoding": {"yError": {"field": "e"}}},
        {"data": {"name": "C"}, "mark": {"type": "line", "color": "black", "strokeWidth": 1.7, "invalid": "break-paths-filter-domains"}},
        {"data": {"name": "C"}, "transform": [{"filter": "datum.v != null && datum.d <= 115"}], "mark": {"type": "point", "shape": "circle", "size": 14, "filled": true, "color": "#e6e6e6", "stroke": "#808080", "strokeWidth": 0.9, "opacity": 1}},
        {"data": {"name": "C"}, "transform": [{"filter": "datum.v != null && datum.d > 115"}], "mark": {"type": "square", "size": 12, "color": "black", "opacity": 1}},
        {"data": {"name": "notes"}, "transform": [{"filter": "datum.p == 'C' && datum.k == 'fit'"}], "mark": {"type": "rule", "color": "black", "strokeWidth": 1.3}, "encoding": {"x2": {"field": "d2"}, "y2": {"field": "v2"}}},
        {"data": {"name": "notes"}, "transform": [{"filter": "datum.p == 'C' && datum.k == 'fitd'"}], "mark": {"type": "rule", "color": "black", "strokeWidth": 1.3, "strokeDash": [5, 3]}, "encoding": {"x2": {"field": "d2"}, "y2": {"field": "v2"}}},
        {"data": {"name": "notes"}, "transform": [{"filter": "datum.p == 'C' && datum.k == 'box'"}], "mark": {"type": "rect", "fill": "white", "stroke": "#595959", "strokeWidth": 1}, "encoding": {"x2": {"field": "d2"}, "y2": {"field": "v2"}}},
        {"data": {"name": "notes"}, "transform": [{"filter": "datum.p == 'C' && datum.k == 'btxt'"}], "mark": {"type": "text", "align": "left", "baseline": "middle", "fontSize": 10}, "encoding": {"text": {"field": "t"}}},
        {"data": {"name": "notes"}, "transform": [{"filter": "datum.p == 'C' && datum.k == 'lbl'"}], "mark": {"type": "text", "align": "center", "baseline": "middle", "fontSize": 10}, "encoding": {"text": {"field": "t"}}},
        {"data": {"name": "notes"}, "transform": [{"filter": "datum.p == 'C' && datum.k == 'seg'"}], "mark": {"type": "rule", "color": "black", "strokeWidth": 1.2}, "encoding": {"x2": {"field": "d2"}, "y2": {"field": "v2"}}},
        {"data": {"name": "notes"}, "transform": [{"filter": "datum.p == 'C' && datum.k == 'bar'"}], "mark": {"type": "rule", "color": "black", "strokeWidth": 1.8}, "encoding": {"x2": {"field": "d2"}, "y2": {"field": "v2"}}},
        {"data": {"name": "notes"}, "transform": [{"filter": "datum.p == 'C' && datum.k == 'chl'"}], "mark": {"type": "point", "shape": "M1.1,-1L0,0L1.1,1", "size": 64, "filled": false, "stroke": "black", "strokeWidth": 1.2, "opacity": 1}},
        {"data": {"name": "notes"}, "transform": [{"filter": "datum.p == 'C' && datum.k == 'chr'"}], "mark": {"type": "point", "shape": "M-1.1,-1L0,0L-1.1,1", "size": 64, "filled": false, "stroke": "black", "strokeWidth": 1.2, "opacity": 1}},
        {"data": {"name": "notes"}, "transform": [{"filter": "datum.p == 'C' && datum.k == 'tri'"}], "mark": {"type": "point", "shape": "triangle-right", "size": 30, "filled": true, "color": "black", "opacity": 1}},
        {"data": {"name": "notes"}, "transform": [{"filter": "datum.p == 'C' && datum.k == 'tdn'"}], "mark": {"type": "point", "shape": "triangle-down", "size": 12, "filled": true, "color": "black", "opacity": 1}}
      ]
    },
    {
      "width": 443, "height": 221,
      "encoding": {
        "x": {"field": "d", "type": "quantitative", "scale": {"domain": [45, 175], "nice": false, "zero": false}, "axis": {"values": [45,55,65,75,85,95,105,115,125,135,145,155,165,175], "title": null}},
        "y": {"field": "v", "type": "quantitative", "scale": {"domain": [1, 8], "nice": false, "zero": false}, "axis": {"values": [1,1.5,2,2.5,3,3.5,4,4.5,5,5.5,6,6.5,7,7.5,8], "labels": false, "title": null}}
      },
      "layer": [
        {"data": {"name": "D"}, "transform": [{"filter": "datum.v != null"}], "mark": {"type": "errorbar", "color": "#a6a6a6", "thickness": 1, "ticks": {"size": 4}}, "encoding": {"yError": {"field": "e"}}},
        {"data": {"name": "D"}, "mark": {"type": "line", "color": "black", "strokeWidth": 1.7, "invalid": "break-paths-filter-domains"}},
        {"data": {"name": "D"}, "transform": [{"filter": "datum.v != null && datum.d <= 115"}], "mark": {"type": "point", "shape": "circle", "size": 14, "filled": true, "color": "#e6e6e6", "stroke": "#808080", "strokeWidth": 0.9, "opacity": 1}},
        {"data": {"name": "D"}, "transform": [{"filter": "datum.v != null && datum.d > 115"}], "mark": {"type": "square", "size": 12, "color": "black", "opacity": 1}},
        {"data": {"name": "notes"}, "transform": [{"filter": "datum.p == 'D' && datum.k == 'fit'"}], "mark": {"type": "rule", "color": "black", "strokeWidth": 1.3}, "encoding": {"x2": {"field": "d2"}, "y2": {"field": "v2"}}},
        {"data": {"name": "notes"}, "transform": [{"filter": "datum.p == 'D' && datum.k == 'fitd'"}], "mark": {"type": "rule", "color": "black", "strokeWidth": 1.3, "strokeDash": [5, 3]}, "encoding": {"x2": {"field": "d2"}, "y2": {"field": "v2"}}},
        {"data": {"name": "notes"}, "transform": [{"filter": "datum.p == 'D' && datum.k == 'box'"}], "mark": {"type": "rect", "fill": "white", "stroke": "#595959", "strokeWidth": 1}, "encoding": {"x2": {"field": "d2"}, "y2": {"field": "v2"}}},
        {"data": {"name": "notes"}, "transform": [{"filter": "datum.p == 'D' && datum.k == 'btxt'"}], "mark": {"type": "text", "align": "left", "baseline": "middle", "fontSize": 10}, "encoding": {"text": {"field": "t"}}},
        {"data": {"name": "notes"}, "transform": [{"filter": "datum.p == 'D' && datum.k == 'lbl'"}], "mark": {"type": "text", "align": "center", "baseline": "middle", "fontSize": 10}, "encoding": {"text": {"field": "t"}}},
        {"data": {"name": "notes"}, "transform": [{"filter": "datum.p == 'D' && datum.k == 'seg'"}], "mark": {"type": "rule", "color": "black", "strokeWidth": 1.2}, "encoding": {"x2": {"field": "d2"}, "y2": {"field": "v2"}}},
        {"data": {"name": "notes"}, "transform": [{"filter": "datum.p == 'D' && datum.k == 'bar'"}], "mark": {"type": "rule", "color": "black", "strokeWidth": 1.8}, "encoding": {"x2": {"field": "d2"}, "y2": {"field": "v2"}}},
        {"data": {"name": "notes"}, "transform": [{"filter": "datum.p == 'D' && datum.k == 'chl'"}], "mark": {"type": "point", "shape": "M1.1,-1L0,0L1.1,1", "size": 64, "filled": false, "stroke": "black", "strokeWidth": 1.2, "opacity": 1}},
        {"data": {"name": "notes"}, "transform": [{"filter": "datum.p == 'D' && datum.k == 'chr'"}], "mark": {"type": "point", "shape": "M-1.1,-1L0,0L-1.1,1", "size": 64, "filled": false, "stroke": "black", "strokeWidth": 1.2, "opacity": 1}},
        {"data": {"name": "notes"}, "transform": [{"filter": "datum.p == 'D' && datum.k == 'tri'"}], "mark": {"type": "point", "shape": "triangle-right", "size": 30, "filled": true, "color": "black", "opacity": 1}},
        {"data": {"name": "notes"}, "transform": [{"filter": "datum.p == 'D' && datum.k == 'tdn'"}], "mark": {"type": "point", "shape": "triangle-down", "size": 12, "filled": true, "color": "black", "opacity": 1}}
      ]
    }
  ]
}
